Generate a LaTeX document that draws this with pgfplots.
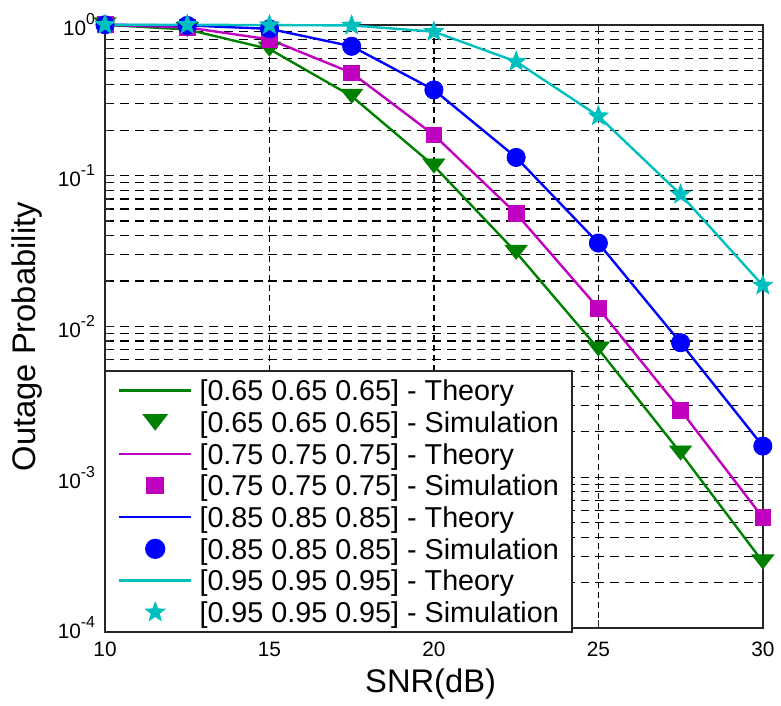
\documentclass[border=0pt]{standalone}
\usepackage{fontspec}
\setmainfont{Liberation Sans}
\usepackage{pgfplots}
\usepackage{pgfplotstable}
\pgfplotsset{compat=1.18}
\usetikzlibrary{plotmarks}

\definecolor{mgreen}{RGB}{0,128,0}
\definecolor{mmag}{RGB}{191,0,191}
\definecolor{mblue}{RGB}{0,0,255}
\definecolor{mcyan}{RGB}{0,191,191}
\definecolor{axgray}{RGB}{38,38,38}

% flattened downward triangle and filled five-point star, MATLAB-like
\pgfdeclareplotmark{dtri}{%
  \pgfpathmoveto{\pgfpoint{-\pgfplotmarksize}{0.64\pgfplotmarksize}}%
  \pgfpathlineto{\pgfpoint{\pgfplotmarksize}{0.64\pgfplotmarksize}}%
  \pgfpathlineto{\pgfpoint{0pt}{-0.64\pgfplotmarksize}}%
  \pgfpathclose\pgfusepathqfillstroke}
\pgfdeclareplotmark{fstar}{%
  \pgfpathmoveto{\pgfpointpolar{90}{\pgfplotmarksize}}%
  \pgfpathlineto{\pgfpointpolar{126}{0.42\pgfplotmarksize}}%
  \pgfpathlineto{\pgfpointpolar{162}{\pgfplotmarksize}}%
  \pgfpathlineto{\pgfpointpolar{198}{0.42\pgfplotmarksize}}%
  \pgfpathlineto{\pgfpointpolar{234}{\pgfplotmarksize}}%
  \pgfpathlineto{\pgfpointpolar{270}{0.42\pgfplotmarksize}}%
  \pgfpathlineto{\pgfpointpolar{306}{\pgfplotmarksize}}%
  \pgfpathlineto{\pgfpointpolar{342}{0.42\pgfplotmarksize}}%
  \pgfpathlineto{\pgfpointpolar{18}{\pgfplotmarksize}}%
  \pgfpathlineto{\pgfpointpolar{54}{0.42\pgfplotmarksize}}%
  \pgfpathclose\pgfusepathqfillstroke}

% outage probability vs SNR, one table per coefficient set
\pgfplotstableread{
x    p
10   1.0
12.5 0.93
15   0.69
17.5 0.336
20   0.116
22.5 0.031
25   0.0071
27.5 0.00145
30   0.000275
}\tabA
\pgfplotstableread{
x    p
10   1.0
12.5 0.96
15   0.80
17.5 0.48
20   0.186
22.5 0.056
25   0.0132
27.5 0.00279
30   0.00054
}\tabB
\pgfplotstableread{
x    p
10   1.0
12.5 0.99
15   0.94
17.5 0.72
20   0.37
22.5 0.132
25   0.0357
27.5 0.0078
30   0.00161
}\tabC
\pgfplotstableread{
x    p
10   1.0
12.5 1.0
15   0.995
17.5 0.99
20   0.90
22.5 0.57
25   0.248
27.5 0.075
30   0.0187
}\tabD

\pgfplotsset{
  theory/.style={line width=1.2pt, no markers,
    legend image code/.code={\path (0pt,0pt) (36.5pt,0pt);\draw[##1] (0pt,0pt) -- (36.5pt,0pt);}},
  sim/.style={only marks,
    legend image code/.code={\path (0pt,0pt) (36.5pt,0pt);\draw[##1] plot coordinates {(18.25pt,0pt)};}},
}

\begin{document}
\begin{tikzpicture}
\begin{axis}[
    name=ax,
    scale only axis,
    width=332pt, height=304.5pt,
    xmin=10, xmax=30,
    ymode=log,
    ymin=1e-4, ymax=1,
    xtick={10,15,20,25,30},
    ytick={1e-4,1e-3,1e-2,1e-1,1},
    yticklabels={10\raisebox{1.0ex}{\fontsize{8}{8}\selectfont -4},
                 10\raisebox{1.0ex}{\fontsize{8}{8}\selectfont -3},
                 10\raisebox{1.0ex}{\fontsize{8}{8}\selectfont -2},
                 10\raisebox{1.0ex}{\fontsize{8}{8}\selectfont -1},
                 10\raisebox{1.0ex}{\fontsize{8}{8}\selectfont 0}},
    xticklabel style={/pgf/number format/assume math mode=true, yshift=-3.5pt},
    yticklabel style={xshift=-1.5pt},
    tick label style={font=\fontsize{10.5}{12}\selectfont},
    tick align=inside,
    major tick length=4pt, minor tick length=2.5pt,
    every tick/.style={axgray, line width=0.6pt},
    axis line style={axgray, line width=1pt},
    xmajorgrids, ymajorgrids, yminorgrids,
    x grid style={black, line width=0.6pt, dash pattern=on 3pt off 2pt},
    y grid style={black, line width=0.6pt, dash pattern=on 4.5pt off 3pt},
    clip=false,
    xlabel={SNR(dB)},
    ylabel={Outage Probability},
    every axis x label/.style={at={(axis description cs:0.495,-0.106)}, anchor=base,
      font=\fontsize{16.5}{18}\selectfont},
    every axis y label/.style={at={(axis description cs:-0.119,0.483)}, anchor=center, rotate=90,
      font=\fontsize{16.5}{18}\selectfont},
    legend cell align=left,
    legend style={at={(0,0)}, anchor=south west, yshift=-2pt, outer sep=0pt, draw=axgray, line width=1pt, fill=white,
      font=\fontsize{14.5}{16}\selectfont,
      inner xsep=6.5pt, inner ysep=2pt, column sep=3.5pt, row sep=0pt,
      nodes={inner sep=0pt, outer sep=0pt, text height=13.2pt, text depth=2.8pt}},
]
\addplot[theory, mgreen] table[x=x, y=p] {\tabA};
\addlegendentry{{}[0.65 0.65 0.65] - Theory}
\addplot[sim, mgreen, mark=dtri, mark size=5.5pt] table[x=x, y=p] {\tabA};
\addlegendentry{{}[0.65 0.65 0.65] - Simulation}
\addplot[theory, mmag] table[x=x, y=p] {\tabB};
\addlegendentry{{}[0.75 0.75 0.75] - Theory}
\addplot[sim, mmag, mark=square*, mark size=4pt] table[x=x, y=p] {\tabB};
\addlegendentry{{}[0.75 0.75 0.75] - Simulation}
\addplot[theory, mblue] table[x=x, y=p] {\tabC};
\addlegendentry{{}[0.85 0.85 0.85] - Theory}
\addplot[sim, mblue, mark=*, mark size=4.6pt] table[x=x, y=p] {\tabC};
\addlegendentry{{}[0.85 0.85 0.85] - Simulation}
\addplot[theory, mcyan] table[x=x, y=p] {\tabD};
\addlegendentry{{}[0.95 0.95 0.95] - Theory}
\addplot[sim, mcyan, mark=fstar, mark size=5pt, line width=0.5pt] table[x=x, y=p] {\tabD};
\addlegendentry{{}[0.95 0.95 0.95] - Simulation}
\end{axis}
\path ([shift={(-53pt,-34pt)}]ax.south west) rectangle ([shift={(5.5pt,12.5pt)}]ax.north east);
\end{tikzpicture}
\end{document}
